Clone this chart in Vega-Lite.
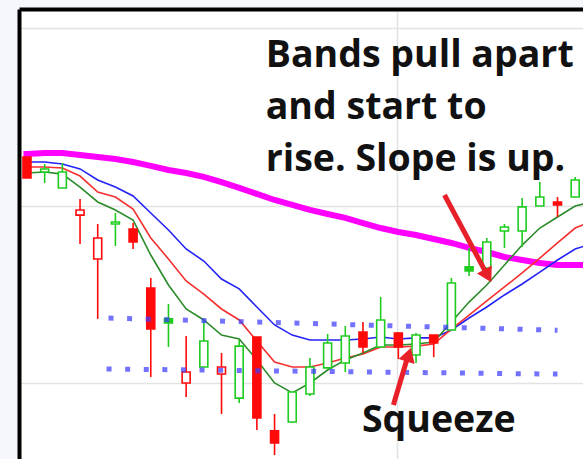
{
  "$schema": "https://vega.github.io/schema/vega-lite/v6.json",
  "width": 570,
  "height": 460,
  "autosize": {"type": "none"},
  "padding": {"left": 21, "top": 11, "right": 0, "bottom": 0},
  "background": "#f5f7fc",
  "config": {"view": {"fill": "white", "stroke": null}},
  "datasets": {
    "candles": [
      {"t":0,"open":112.73,"high":112.73,"low":111.55,"close":111.55,"dir":"down"},
      {"t":1,"open":111.89,"high":112.34,"low":111.27,"close":112.06,"dir":"up"},
      {"t":2,"open":110.99,"high":112.39,"low":110.99,"close":111.89,"dir":"up"},
      {"t":3,"open":109.46,"high":110.37,"low":107.83,"close":109.75,"dir":"down"},
      {"t":4,"open":106.99,"high":108.96,"low":103.61,"close":108.17,"dir":"down"},
      {"t":5,"open":108.96,"high":109.58,"low":107.72,"close":109.07,"dir":"up"},
      {"t":6,"open":108.68,"high":109.01,"low":107.55,"close":107.94,"dir":"down"},
      {"t":7,"open":105.35,"high":105.92,"low":100.34,"close":103.04,"dir":"down"},
      {"t":8,"open":103.61,"high":104.45,"low":102.03,"close":103.38,"dir":"up"},
      {"t":9,"open":100.00,"high":102.65,"low":99.21,"close":100.62,"dir":"down"},
      {"t":10,"open":100.90,"high":103.55,"low":100.90,"close":102.37,"dir":"up"},
      {"t":11,"open":100.51,"high":101.69,"low":98.25,"close":100.90,"dir":"down"},
      {"t":12,"open":99.15,"high":102.42,"low":98.87,"close":102.08,"dir":"up"},
      {"t":13,"open":102.59,"high":102.59,"low":97.35,"close":98.03,"dir":"down"},
      {"t":14,"open":97.30,"high":98.25,"low":95.94,"close":96.62,"dir":"down"},
      {"t":15,"open":97.80,"high":99.49,"low":97.75,"close":99.49,"dir":"up"},
      {"t":16,"open":99.38,"high":101.41,"low":99.27,"close":100.90,"dir":"up"},
      {"t":17,"open":100.85,"high":102.76,"low":100.85,"close":102.25,"dir":"up"},
      {"t":18,"open":101.13,"high":103.21,"low":100.62,"close":102.65,"dir":"up"},
      {"t":19,"open":102.87,"high":103.44,"low":101.69,"close":102.03,"dir":"down"},
      {"t":20,"open":102.03,"high":104.85,"low":102.03,"close":103.55,"dir":"up"},
      {"t":21,"open":102.82,"high":102.87,"low":101.35,"close":102.03,"dir":"down"},
      {"t":22,"open":101.58,"high":102.82,"low":101.13,"close":102.70,"dir":"up"},
      {"t":23,"open":102.70,"high":102.70,"low":101.46,"close":102.25,"dir":"down"},
      {"t":24,"open":102.99,"high":105.92,"low":102.99,"close":105.63,"dir":"up"},
      {"t":25,"open":106.54,"high":107.61,"low":106.03,"close":106.31,"dir":"up"},
      {"t":26,"open":106.48,"high":108.17,"low":106.48,"close":107.94,"dir":"up"},
      {"t":27,"open":108.56,"high":108.96,"low":107.61,"close":108.79,"dir":"up"},
      {"t":28,"open":108.56,"high":110.42,"low":107.66,"close":109.92,"dir":"up"},
      {"t":29,"open":109.97,"high":111.32,"low":109.97,"close":110.48,"dir":"up"},
      {"t":30,"open":110.20,"high":110.48,"low":109.35,"close":110.03,"dir":"down"},
      {"t":31,"open":110.48,"high":111.61,"low":110.48,"close":111.44,"dir":"up"}
    ],
    "slow": [
      {"t":-0.2,"v":112.90},{"t":0,"v":112.90},{"t":1,"v":112.96},{"t":2,"v":112.96},{"t":3,"v":112.85},{"t":4,"v":112.73},
      {"t":5,"v":112.62},{"t":6,"v":112.45},{"t":7,"v":112.23},{"t":8,"v":112.00},{"t":9,"v":111.83},
      {"t":10,"v":111.61},{"t":11,"v":111.32},{"t":12,"v":110.99},{"t":13,"v":110.65},{"t":14,"v":110.31},
      {"t":15,"v":110.03},{"t":16,"v":109.75},{"t":17,"v":109.52},{"t":18,"v":109.30},{"t":19,"v":109.01},
      {"t":20,"v":108.73},{"t":21,"v":108.51},{"t":22,"v":108.34},{"t":23,"v":108.11},{"t":24,"v":107.89},
      {"t":25,"v":107.61},{"t":26,"v":107.38},{"t":27,"v":107.10},{"t":28,"v":106.93},{"t":29,"v":106.76},
      {"t":30,"v":106.65},{"t":31,"v":106.65},{"t":31.7,"v":106.65}
    ],
    "ma": [
      {"s":"MA20","t":-0.2,"v":112.45},{"s":"MA20","t":0,"v":112.45},{"s":"MA20","t":1,"v":112.45},{"s":"MA20","t":2,"v":112.34},
      {"s":"MA20","t":3,"v":112.06},{"s":"MA20","t":4,"v":111.44},{"s":"MA20","t":5,"v":111.04},{"s":"MA20","t":6,"v":110.54},
      {"s":"MA20","t":7,"v":109.58},{"s":"MA20","t":8,"v":108.62},{"s":"MA20","t":9,"v":107.55},{"s":"MA20","t":10,"v":106.87},
      {"s":"MA20","t":11,"v":105.86},{"s":"MA20","t":12,"v":105.30},{"s":"MA20","t":13,"v":104.28},{"s":"MA20","t":14,"v":103.27},
      {"s":"MA20","t":15,"v":102.70},{"s":"MA20","t":16,"v":102.42},{"s":"MA20","t":17,"v":102.42},{"s":"MA20","t":18,"v":102.42},
      {"s":"MA20","t":19,"v":102.48},{"s":"MA20","t":20,"v":102.59},{"s":"MA20","t":21,"v":102.48},{"s":"MA20","t":22,"v":102.54},
      {"s":"MA20","t":23,"v":102.54},{"s":"MA20","t":24,"v":102.99},{"s":"MA20","t":25,"v":103.66},{"s":"MA20","t":26,"v":104.28},
      {"s":"MA20","t":27,"v":104.96},{"s":"MA20","t":28,"v":105.58},{"s":"MA20","t":29,"v":106.25},{"s":"MA20","t":30,"v":106.93},
      {"s":"MA20","t":31,"v":107.55},{"s":"MA20","t":31.7,"v":107.77},

      {"s":"MA10","t":-0.2,"v":112.17},{"s":"MA10","t":0,"v":112.17},{"s":"MA10","t":1,"v":112.17},{"s":"MA10","t":2,"v":112.11},
      {"s":"MA10","t":3,"v":111.66},{"s":"MA10","t":4,"v":110.76},{"s":"MA10","t":5,"v":110.48},{"s":"MA10","t":6,"v":109.80},
      {"s":"MA10","t":7,"v":108.17},{"s":"MA10","t":8,"v":106.99},{"s":"MA10","t":9,"v":105.75},{"s":"MA10","t":10,"v":105.01},
      {"s":"MA10","t":11,"v":104.17},{"s":"MA10","t":12,"v":103.55},{"s":"MA10","t":13,"v":102.37},{"s":"MA10","t":14,"v":101.18},
      {"s":"MA10","t":15,"v":100.90},{"s":"MA10","t":16,"v":100.90},{"s":"MA10","t":17,"v":101.13},{"s":"MA10","t":18,"v":101.41},
      {"s":"MA10","t":19,"v":101.63},{"s":"MA10","t":20,"v":102.03},{"s":"MA10","t":21,"v":102.03},{"s":"MA10","t":22,"v":102.08},
      {"s":"MA10","t":23,"v":102.20},{"s":"MA10","t":24,"v":103.04},{"s":"MA10","t":25,"v":103.83},{"s":"MA10","t":26,"v":104.62},
      {"s":"MA10","t":27,"v":105.41},{"s":"MA10","t":28,"v":106.20},{"s":"MA10","t":29,"v":107.04},{"s":"MA10","t":30,"v":107.89},
      {"s":"MA10","t":31,"v":108.73},{"s":"MA10","t":31.7,"v":109.01},

      {"s":"MA5","t":-0.2,"v":111.83},{"s":"MA5","t":0,"v":111.83},{"s":"MA5","t":1,"v":111.89},{"s":"MA5","t":2,"v":111.77},
      {"s":"MA5","t":3,"v":111.04},{"s":"MA5","t":4,"v":110.20},{"s":"MA5","t":5,"v":109.75},{"s":"MA5","t":6,"v":109.18},
      {"s":"MA5","t":7,"v":107.21},{"s":"MA5","t":8,"v":105.52},{"s":"MA5","t":9,"v":104.17},{"s":"MA5","t":10,"v":103.55},
      {"s":"MA5","t":11,"v":102.70},{"s":"MA5","t":12,"v":102.48},{"s":"MA5","t":13,"v":101.30},{"s":"MA5","t":14,"v":100.00},
      {"s":"MA5","t":15,"v":99.44},{"s":"MA5","t":16,"v":100.00},{"s":"MA5","t":17,"v":100.73},{"s":"MA5","t":18,"v":101.30},
      {"s":"MA5","t":19,"v":101.69},{"s":"MA5","t":20,"v":102.14},{"s":"MA5","t":21,"v":102.14},{"s":"MA5","t":22,"v":102.20},
      {"s":"MA5","t":23,"v":102.31},{"s":"MA5","t":24,"v":103.44},{"s":"MA5","t":25,"v":104.56},{"s":"MA5","t":26,"v":105.52},
      {"s":"MA5","t":27,"v":106.65},{"s":"MA5","t":28,"v":107.77},{"s":"MA5","t":29,"v":108.73},{"s":"MA5","t":30,"v":109.35},
      {"s":"MA5","t":31,"v":109.97},{"s":"MA5","t":31.7,"v":110.14}
    ],
    "bands": [
      {"b":"upper","t":4.61,"v":103.66},{"b":"upper","t":30.0,"v":102.97},
      {"b":"lower","t":4.5,"v":100.79},{"b":"lower","t":30.0,"v":100.50}
    ],
    "arrows": [
      {"id":"a1","t":23.61,"v":110.59},{"id":"a1","t":25.94,"v":106.25},
      {"id":"a2","t":20.72,"v":98.76},{"id":"a2","t":21.55,"v":101.55}
    ],
    "heads": [
      {"id":"a1","t":26.06,"v":106.03},
      {"id":"a2","t":21.59,"v":101.60}
    ],
    "notes": [
      {"t":13.5,"v":117.80,"txt":"Bands pull apart\nand start to\nrise. Slope is up."},
      {"t":18.94,"v":97.24,"txt":"Squeeze"}
    ]
  },
  "encoding": {
    "x": {
      "field": "t", "type": "quantitative",
      "scale": {"domain": [-0.0556, 31.611], "nice": false, "zero": false},
      "axis": {"orient": "top", "offset": 2, "values": [20.94], "grid": true, "gridColor": "#e3e3e3", "gridWidth": 1.5,
               "labels": false, "ticks": false, "domain": true, "domainColor": "#000000", "domainWidth": 4, "domainCap": "square", "title": null}
    }
  },
  "layer": [
    {
      "data": {"name": "slow"},
      "mark": {"type": "line", "color": "#ff00ff", "strokeWidth": 6, "clip": true},
      "encoding": {
        "y": {"field": "v", "type": "quantitative",
              "scale": {"domain": [95.042, 120.958], "nice": false, "zero": false},
              "axis": {"orient": "left", "offset": 2, "values": [100, 110, 120], "grid": true, "gridColor": "#e3e3e3", "gridWidth": 1.5,
                       "labels": false, "ticks": false, "domain": true, "domainColor": "#000000", "domainWidth": 4, "domainCap": "square", "title": null}}
      }
    },
    {
      "data": {"name": "ma"},
      "mark": {"type": "line", "strokeWidth": 1.6, "clip": true},
      "encoding": {
        "y": {"field": "v", "type": "quantitative", "scale": {"domain": [95.042, 120.958], "nice": false, "zero": false}},
        "color": {"field": "s", "type": "nominal", "scale": {"domain": ["MA20", "MA10", "MA5"], "range": ["#2323f5", "#f53030", "#2c8c2c"]}, "legend": null}
      }
    },
    {
      "data": {"name": "candles"},
      "mark": {"type": "rule", "strokeWidth": 1.6, "clip": true},
      "encoding": {
        "y": {"field": "low", "type": "quantitative", "scale": {"domain": [95.042, 120.958], "nice": false, "zero": false}},
        "y2": {"field": "high"},
        "stroke": {"field": "dir", "type": "nominal", "scale": {"domain": ["up", "down"], "range": ["#1ecb1e", "#ff0a0a"]}, "legend": null}
      }
    },
    {
      "data": {"name": "candles"},
      "mark": {"type": "bar", "width": 8, "strokeWidth": 1.6, "clip": true},
      "encoding": {
        "y": {"field": "open", "type": "quantitative", "scale": {"domain": [95.042, 120.958], "nice": false, "zero": false}},
        "y2": {"field": "close"},
        "stroke": {"field": "dir", "type": "nominal", "scale": {"domain": ["up", "down"], "range": ["#1ecb1e", "#ff0a0a"]}, "legend": null},
        "fill": {"condition": {"test": "datum.close > datum.open", "value": "#ffffff"},
                 "field": "dir", "type": "nominal", "scale": {"domain": ["up", "down"], "range": ["#1ecb1e", "#ff0a0a"]}, "legend": null}
      }
    },
    {
      "data": {"name": "bands"},
      "mark": {"type": "line", "color": "#3b3bff", "opacity": 0.72, "strokeWidth": 5, "strokeDash": [5, 13.6], "strokeCap": "butt", "clip": true},
      "encoding": {
        "y": {"field": "v", "type": "quantitative", "scale": {"domain": [95.042, 120.958], "nice": false, "zero": false}},
        "detail": {"field": "b", "type": "nominal"}
      }
    },
    {
      "data": {"name": "arrows"},
      "mark": {"type": "line", "color": "#e8202a", "strokeWidth": 5, "strokeCap": "butt", "clip": true},
      "encoding": {
        "y": {"field": "v", "type": "quantitative", "scale": {"domain": [95.042, 120.958], "nice": false, "zero": false}},
        "detail": {"field": "id", "type": "nominal"}
      }
    },
    {
      "data": {"name": "heads"},
      "transform": [{"filter": "datum.id == 'a1'"}],
      "mark": {"type": "point", "shape": "triangle-down", "angle": 331.4, "filled": true, "color": "#e8202a", "opacity": 1, "size": 280, "clip": true},
      "encoding": {
        "y": {"field": "v", "type": "quantitative", "scale": {"domain": [95.042, 120.958], "nice": false, "zero": false}}
      }
    },
    {
      "data": {"name": "heads"},
      "transform": [{"filter": "datum.id == 'a2'"}],
      "mark": {"type": "point", "shape": "triangle-up", "angle": 17.2, "filled": true, "color": "#e8202a", "opacity": 1, "size": 280, "clip": true},
      "encoding": {
        "y": {"field": "v", "type": "quantitative", "scale": {"domain": [95.042, 120.958], "nice": false, "zero": false}}
      }
    },
    {
      "data": {"name": "notes"},
      "mark": {"type": "text", "align": "left", "baseline": "alphabetic", "lineBreak": "\n", "lineHeight": 52,
               "font": "Open Sans", "fontWeight": "bold", "fontSize": 37.5, "color": "#111111"},
      "encoding": {
        "y": {"field": "v", "type": "quantitative", "scale": {"domain": [95.042, 120.958], "nice": false, "zero": false}},
        "text": {"field": "txt", "type": "nominal"}
      }
    }
  ]
}
